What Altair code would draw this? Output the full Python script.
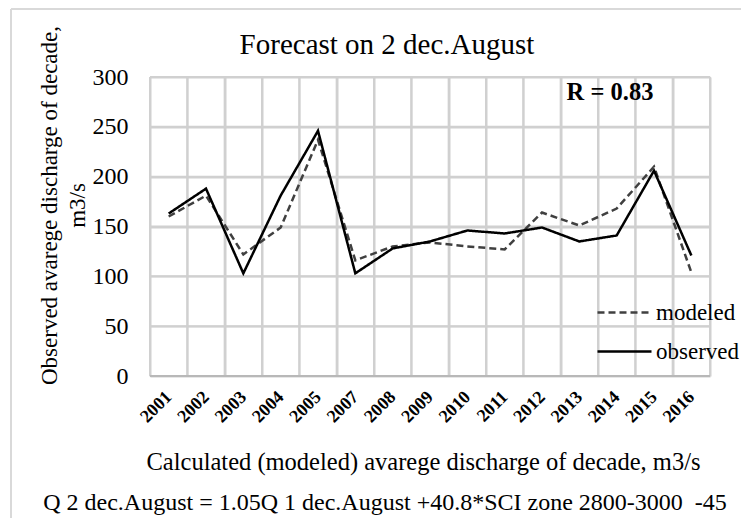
import altair as alt
import pandas as pd

years = ["2001", "2002", "2003", "2004", "2005", "2007", "2008", "2009",
         "2010", "2011", "2012", "2013", "2014", "2015", "2016"]
observed = [163, 188, 103, 181, 246, 103, 128, 135, 146, 143, 149, 135, 141, 206, 121]
modeled = [160, 181, 122, 149, 237, 116, 130, 134, 130, 127, 164, 151, 168, 210, 104]
series_names = ["modeled", "observed"]
y_ticks = [0, 50, 100, 150, 200, 250, 300]

rows = []
for name, vals in zip(series_names, [modeled, observed]):
    for y, v in zip(years, vals):
        rows.append({"year": y, "value": v, "series": name})
df = pd.DataFrame(rows)
tick_df = pd.DataFrame({"value": y_ticks})
year_df = pd.DataFrame({"year": years})

SERIF = "Liberation Serif"
GRID = "#d0d0d0"

x_scale = alt.Scale(type="band", paddingInner=0, paddingOuter=0, domain=years)
y_scale = alt.Scale(domain=[0, 300])

legend_cfg = dict(title=None, orient="none", legendX=463, legendY=224, padding=0,
                  symbolType="M-2.7,0H2.7", symbolSize=400,
                  symbolStrokeWidth=2.5, labelFont=SERIF,
                  labelFontSize=23, labelColor="black",
                  labelOffset=20, rowPadding=15)

y_grid = alt.Chart(tick_df).mark_rule(stroke=GRID, strokeWidth=2).encode(
    y=alt.Y("value:Q", scale=y_scale))
x_grid = alt.Chart(year_df).mark_rule(stroke=GRID, strokeWidth=2).encode(
    x=alt.X("year:O", scale=x_scale, bandPosition=0))
right_edge = alt.Chart(alt.Data(values=[{}])).mark_rule(stroke=GRID, strokeWidth=2).encode(
    x=alt.value(560), y=alt.value(0), y2=alt.value(299))
bottom_domain = alt.Chart(alt.Data(values=[{"value": 0}])).mark_rule(
    stroke="#b8b8b8", strokeWidth=2).encode(y=alt.Y("value:Q", scale=y_scale))

lines = alt.Chart(df).mark_line(strokeWidth=2.5).encode(
    x=alt.X("year:O", sort=years, scale=x_scale,
            axis=alt.Axis(title="Calculated (modeled) avarege discharge of decade, m3/s",
                          labelAngle=-45, labelAlign="right", labelBaseline="middle",
                          labelFont=SERIF, labelFontSize=18, labelFontWeight="bold",
                          labelColor="black", labelPadding=18,
                          ticks=False, grid=True, tickBand="extent",
                          gridColor=GRID, gridWidth=2, gridOpacity=1, domain=False,
                          titleFont=SERIF, titleFontSize=24.5, titleFontWeight="normal",
                          titleColor="black", titleX=273, titleY=86,
                          titleAlign="center", titleBaseline="middle")),
    y=alt.Y("value:Q", scale=y_scale,
            axis=alt.Axis(values=y_ticks,
                          title=["Observed avarege discharge of decade,", "m3/s"],
                          labelFont=SERIF, labelFontSize=24, labelColor="black",
                          labelPadding=22, ticks=False, domain=False,
                          grid=True, gridColor=GRID, gridWidth=2, gridOpacity=1,
                          titleFont=SERIF, titleFontSize=23, titleFontWeight="normal",
                          titleColor="black", titleLineHeight=28,
                          titleX=-101, titleY=128, titleBaseline="middle",
                          titleAlign="center", titleAngle=-90)),
    color=alt.Color("series:N", sort=series_names,
                    scale=alt.Scale(domain=series_names, range=["#404040", "#000000"]),
                    legend=alt.Legend(**legend_cfg)),
    strokeDash=alt.StrokeDash("series:N", sort=series_names,
                              scale=alt.Scale(domain=series_names, range=[[7, 4], [1, 0]]),
                              legend=alt.Legend(**legend_cfg)),
)

one = alt.Data(values=[{}])

title_text = alt.Chart(one).mark_text(text="Forecast on 2 dec.August", font=SERIF,
                                      fontSize=29, color="black",
                                      align="center", baseline="middle").encode(
    x=alt.value(237), y=alt.value(-32))

r_text = alt.Chart(one).mark_text(text="R = 0.83", font=SERIF, fontSize=24.5,
                                  fontWeight="bold", color="black",
                                  align="center", baseline="middle").encode(
    x=alt.value(460), y=alt.value(16))

footnote = alt.Chart(one).mark_text(
    text="Q 2 dec.August = 1.05Q 1 dec.August +40.8*SCI zone 2800-3000\u00a0 -45",
    font=SERIF, fontSize=24, color="black", align="center", baseline="middle").encode(
    x=alt.value(235), y=alt.value(426))

border_top = alt.Chart(one).mark_rule(stroke="#d9d9d9", strokeWidth=2).encode(
    x=alt.value(-139), x2=alt.value(700), y=alt.value(-68))
border_left = alt.Chart(one).mark_rule(stroke="#d9d9d9", strokeWidth=2).encode(
    x=alt.value(-139), y=alt.value(-68), y2=alt.value(600))

chart = alt.layer(y_grid, x_grid, right_edge, bottom_domain, lines,
                  border_top, border_left, title_text, r_text, footnote).properties(
    width=560, height=299,
    autosize=alt.AutoSizeParams(type="none"),
    padding={"left": 142, "top": 69, "right": 31, "bottom": 142},
).configure(background="white").configure_view(stroke=None)

chart.save("out.html", embed_options={"renderer": "svg", "actions": False})
